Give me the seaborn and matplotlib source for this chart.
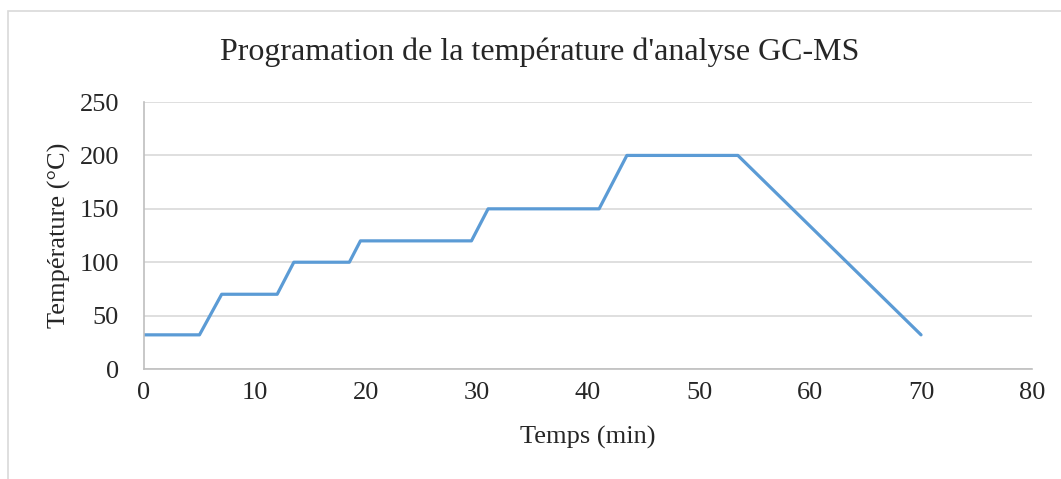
import matplotlib
matplotlib.use("Agg")
import matplotlib.pyplot as plt
from matplotlib.patches import Rectangle
import seaborn as sns
import pandas as pd

# temperature program
temps_min = [0, 5, 7, 12, 13.5, 18.5, 19.5, 29.5, 31, 41, 43.5, 53.5, 70]
temp_c = [32, 32, 70, 70, 100, 100, 120, 120, 150, 150, 200, 200, 32]
x_ticks = [0, 10, 20, 30, 40, 50, 60, 70, 80]
y_ticks = [0, 50, 100, 150, 200, 250]

df = pd.DataFrame({"Temps": temps_min, "Temp": temp_c})

sns.set_theme(style="white")
plt.rcParams["font.family"] = ["Liberation Serif", "DejaVu Serif"]

fig = plt.figure(figsize=(10.61, 4.79), dpi=100)
ax = fig.add_axes([0.1357, 0.2296, 0.837, 0.5574])

sns.lineplot(data=df, x="Temps", y="Temp", ax=ax, color="#5B9BD5",
             linewidth=2.3, estimator=None, sort=False)

ax.set_xlim(0, 80)
ax.set_ylim(0, 250)
ax.set_xticks(x_ticks)
ax.set_yticks(y_ticks)
ax.yaxis.grid(True, color="#D9D9D9", linewidth=1.2)
ax.set_axisbelow(True)
for s in ["top", "right"]:
    ax.spines[s].set_visible(False)
for s in ["left", "bottom"]:
    ax.spines[s].set_color("#BFBFBF")
    ax.spines[s].set_linewidth(1.2)
ax.tick_params(axis="y", length=0, pad=18, labelsize=19, colors="#262626")
ax.tick_params(axis="x", length=0, pad=9, labelsize=19, colors="#262626")

ax.set_xlabel("Temps (min)", fontsize=19, color="#262626", labelpad=16)
ax.set_ylabel("Température (°C)", fontsize=19, color="#262626", labelpad=6)
fig.text(540 / 1061, 1 - 52 / 479, "Programation de la température d'analyse GC-MS",
         fontsize=23, color="#262626", ha="center", va="center")

# chart-area border (left and top edges visible in the original)
fig.patches.append(Rectangle((8 / 1061, -0.2), 1.2, 1.2 - 11 / 479,
                             transform=fig.transFigure, fill=False,
                             edgecolor="#D9D9D9", linewidth=1.2))

fig.savefig("out.png", dpi=100, facecolor="white")
